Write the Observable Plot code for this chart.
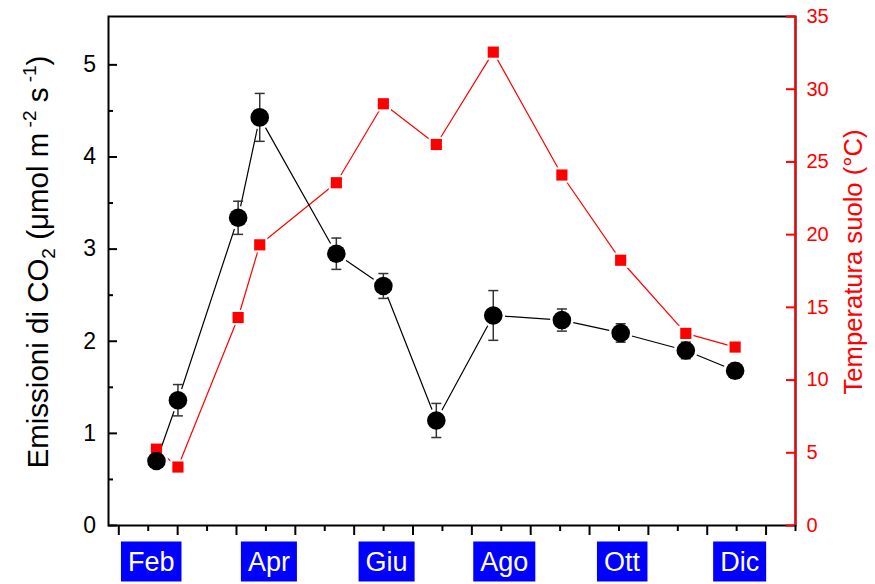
<!DOCTYPE html>
<html><head><meta charset="utf-8">
<script src="https://cdn.jsdelivr.net/npm/d3@7"></script>
<script src="https://cdn.jsdelivr.net/npm/@observablehq/plot@0.6"></script>
<style>body{margin:0;background:#fff;} svg{display:block}</style>
</head><body><div id="chart"></div>
<script>
// ---- data ----
const monthPos   = [1.640, 2.005, 3.028, 3.395, 4.697, 5.496, 6.396, 7.364, 8.530, 9.529, 10.636, 11.474];
const co2        = [0.70, 1.36, 3.34, 4.43, 2.95, 2.60, 1.14, 2.28, 2.23, 2.09, 1.90, 1.68];
const co2Err     = [0.05, 0.17, 0.18, 0.26, 0.17, 0.135, 0.185, 0.27, 0.12, 0.10, 0.09, 0.08];
const tempSuolo  = [5.25, 4.02, 14.3, 19.3, 23.57, 29.0, 26.2, 32.55, 24.1, 18.24, 13.21, 12.27];
const monthLabels   = ["Feb", "Apr", "Giu", "Ago", "Ott", "Dic"];
const monthLabelPos = [1.5, 3.5, 5.5, 7.5, 9.5, 11.5];
const yTicks   = [0, 1, 2, 3, 4, 5];
const yMinor   = [0.5, 1.5, 2.5, 3.5, 4.5];
const tTicks   = [0, 5, 10, 15, 20, 25, 30, 35];
const xMajor   = [1, 2, 3, 4, 5, 6, 7, 8, 9, 10, 11, 12];
const xMinor   = [1.5, 2.5, 3.5, 4.5, 5.5, 6.5, 7.5, 8.5, 9.5, 10.5, 11.5, 12.5];

const W = 875, H = 584, ML = 108, MR = 80, MT = 16, MB = 59;
const plotW = W - ML - MR;
const xDomain = [0.825, 12.5];
const yMax = 5.525, tMax = 35;
const k = yMax / tMax;
const FONT = "'Liberation Sans', Arial, Helvetica, sans-serif";

const rows = monthPos.map((x, i) => ({x, co2: co2[i], err: co2Err[i], t: tempSuolo[i]}));
const caps = rows.flatMap(d => [{x: d.x, y: d.co2 - d.err}, {x: d.x, y: d.co2 + d.err}]);
const capSymbol = {draw(ctx, size) { const w = Math.sqrt(size / Math.PI); ctx.moveTo(-w, 0); ctx.lineTo(w, 0); }};

const chart = Plot.plot({
  width: W, height: H,
  marginLeft: ML, marginRight: MR, marginTop: MT, marginBottom: MB,
  x: {domain: xDomain, axis: null},
  y: {domain: [0, yMax], axis: null},
  style: {fontFamily: FONT, background: "white", color: "black"},
  marks: [
    // red temperature series
    Plot.line(rows, {x: "x", y: d => d.t * k, stroke: "#ff0000", strokeWidth: 1.2}),
    Plot.dot(rows, {x: "x", y: d => d.t * k, symbol: "square", r: 8.6, fill: "white"}),
    // black CO2 series
    Plot.line(rows, {x: "x", y: "co2", stroke: "black", strokeWidth: 1.2}),
    Plot.dot(rows, {x: "x", y: "co2", r: 11.8, fill: "white"}),
    Plot.dot(rows, {x: "x", y: d => d.t * k, symbol: "square", r: 6.3, fill: "#ff0000"}),
    Plot.ruleX(rows, {x: "x", y1: d => d.co2 - d.err, y2: d => d.co2 + d.err, stroke: "#333", strokeWidth: 1.5}),
    Plot.dot(caps, {x: "x", y: "y", symbol: capSymbol, r: 5, stroke: "#333", strokeWidth: 1.5, fill: "none"}),
    Plot.dot(rows, {x: "x", y: "co2", r: 9.3, fill: "black"}),
    // frame
    Plot.frame({stroke: "black", strokeWidth: 2}),
    Plot.ruleX([xDomain[1]], {stroke: "#ff0000", strokeWidth: 2}),
    // left axis (inward ticks)
    Plot.tickY(yTicks, {y: d => d, insetRight: plotW - 9, stroke: "black", strokeWidth: 2}),
    Plot.tickY(yMinor, {y: d => d, insetRight: plotW - 5, stroke: "black", strokeWidth: 2}),
    Plot.axisY(yTicks, {anchor: "left", tickSize: 0, tickPadding: 12.5, fontSize: 23, tickFormat: d => String(d), label: null}),
    // right axis (temperature)
    Plot.tickY(tTicks, {y: d => d * k, insetLeft: plotW - 9, stroke: "#ff0000", strokeWidth: 2}),
    Plot.axisY(tTicks, {y: d => d * k, anchor: "right", tickSize: 0, tickPadding: 11, fontSize: 20, fill: "#ff0000", tickFormat: d => String(d), label: null}),
    // bottom axis ticks (outward)
    Plot.axisX(xMajor, {anchor: "bottom", tickSize: 10, strokeWidth: 2, tickFormat: () => "", label: null}),
    Plot.axisX(xMinor, {anchor: "bottom", tickSize: 6, strokeWidth: 2, tickFormat: () => "", label: null}),
    // month labels
    Plot.text(monthLabels, {x: (d, i) => monthLabelPos[i], text: d => d, frameAnchor: "bottom", dy: 45, dx: 3, fill: "white", fontSize: 27})
  ]
});

document.getElementById("chart").appendChild(chart);
const svg = d3.select(chart);

// blue boxes behind month labels
svg.selectAll("text").filter(function() { return monthLabels.includes(this.textContent); }).each(function() {
  const bb = this.getBBox();
  const r = document.createElementNS("http://www.w3.org/2000/svg", "rect");
  r.setAttribute("x", bb.x - 7);
  r.setAttribute("y", bb.y - 5);
  r.setAttribute("width", bb.width + 14);
  r.setAttribute("height", bb.height + 10);
  r.setAttribute("fill", "#0000ff");
  const tr = this.getAttribute("transform");
  if (tr) r.setAttribute("transform", tr);
  this.parentNode.insertBefore(r, this);
});

// left axis title with sub/superscripts
const lt = svg.append("text")
  .attr("transform", "translate(48,262) rotate(-90)")
  .attr("text-anchor", "middle")
  .attr("font-family", FONT)
  .attr("font-size", 29.5)
  .attr("fill", "black");
lt.append("tspan").text("Emissioni di CO");
lt.append("tspan").attr("font-size", 19).attr("dy", 7).text("2");
lt.append("tspan").attr("dy", -7).text(" (\u03bcmol m");
lt.append("tspan").attr("font-size", 19).attr("dy", -12).text(" -2");
lt.append("tspan").attr("dy", 12).text(" s");
lt.append("tspan").attr("font-size", 19).attr("dy", -12).text(" -1");
lt.append("tspan").attr("dy", 12).text(")");

// right axis title
svg.append("text")
  .attr("transform", "translate(862,262) rotate(-90)")
  .attr("text-anchor", "middle")
  .attr("font-family", FONT)
  .attr("font-size", 25.6)
  .attr("fill", "#ff0000")
  .text("Temperatura suolo (\u00b0C)");
</script>
</body></html>
